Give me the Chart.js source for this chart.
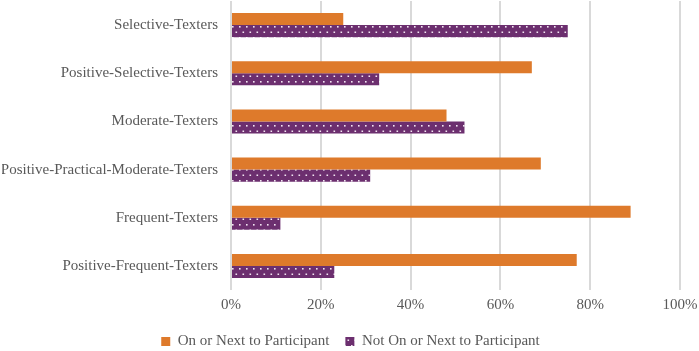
<!DOCTYPE html>
<html>
<head>
    <title>texter groups</title>
    <script src="https://cdn.jsdelivr.net/npm/chart.js@4.4.0/dist/chart.umd.min.js"></script>
    <style>
        body { margin: 0; background: #fff; }
    </style>
</head>
<body>
<canvas id="stage" width="699" height="351"></canvas>
<script>
    var categories = ['Selective-Texters', 'Positive-Selective-Texters', 'Moderate-Texters',
        'Positive-Practical-Moderate-Texters', 'Frequent-Texters', 'Positive-Frequent-Texters'];
    var onNext = [25, 67, 48, 69, 89, 77];
    var notOnNext = [75, 33, 52, 31, 11, 23];
    var xTicks = [0, 20, 40, 60, 80, 100];

    // dotted purple fill (staggered white dots)
    function dots() {
        var c = document.createElement('canvas');
        c.width = 7; c.height = 11;
        var g = c.getContext('2d');
        g.fillStyle = '#6c2f6f';
        g.fillRect(0, 0, 7, 11);
        g.fillStyle = '#f2e6f2';
        g.fillRect(1, 4, 1.6, 1.6);
        g.fillRect(4.5, 9.5, 1.6, 1.6);
        return g.createPattern(c, 'repeat');
    }
    var purple = dots();

    var font = { family: '"Liberation Serif", "Times New Roman", serif', size: 15 };

    var chart = new Chart(document.getElementById('stage'), {
        type: 'bar',
        data: {
            labels: categories,
            datasets: [
                {
                    label: 'On or Next to Participant',
                    data: onNext,
                    backgroundColor: '#de7a2b',
                    borderWidth: 0,
                    categoryPercentage: 0.5,
                    barPercentage: 1.0
                },
                {
                    label: 'Not On or Next to Participant',
                    data: notOnNext,
                    backgroundColor: purple,
                    borderWidth: 0,
                    categoryPercentage: 0.5,
                    barPercentage: 1.0
                }
            ]
        },
        options: {
            indexAxis: 'y',
            responsive: false,
            animation: false,
            layout: { padding: { left: 2, right: 0, top: 1, bottom: -8 } },
            plugins: {
                legend: {
                    position: 'bottom',
                    labels: {
                        font: font,
                        color: '#595959',
                        boxWidth: 9,
                        boxHeight: 9,
                        padding: 16
                    }
                },
                tooltip: { enabled: false }
            },
            scales: {
                x: {
                    min: 0,
                    max: 100,
                    afterBuildTicks: function(axis) {
                        axis.ticks = xTicks.map(function(v){ return { value: v }; });
                    },
                    afterFit: function(s) {
                        s.height = 28;
                        s.paddingLeft = 0;
                        s.paddingRight = 19;
                    },
                    ticks: {
                        font: font,
                        color: '#595959',
                        padding: 6,
                        callback: function(v){ return v + '%'; }
                    },
                    grid: { color: '#d9d9d9', lineWidth: 2, drawTicks: false },
                    border: { display: false }
                },
                y: {
                    afterFit: function(s) {
                        s.width = 229;
                        s.paddingTop = 0;
                        s.paddingBottom = 0;
                    },
                    ticks: { font: font, color: '#595959', padding: 13 },
                    grid: { display: false, drawTicks: false },
                    border: { display: false }
                }
            }
        }
    });
</script>
</body>
</html>
